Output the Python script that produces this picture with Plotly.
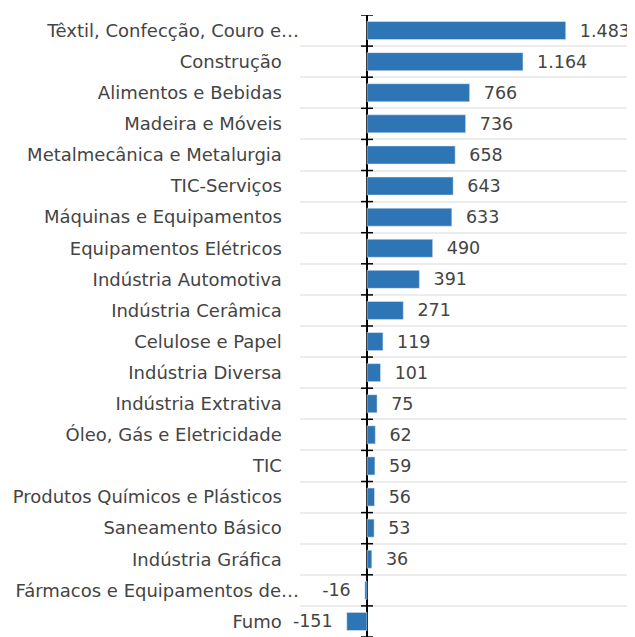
import plotly.graph_objects as go

categories = [
    "Têxtil, Confecção, Couro e…", "Construção", "Alimentos e Bebidas",
    "Madeira e Móveis", "Metalmecânica e Metalurgia", "TIC-Serviços",
    "Máquinas e Equipamentos", "Equipamentos Elétricos", "Indústria Automotiva",
    "Indústria Cerâmica", "Celulose e Papel", "Indústria Diversa",
    "Indústria Extrativa", "Óleo, Gás e Eletricidade", "TIC",
    "Produtos Químicos e Plásticos", "Saneamento Básico", "Indústria Gráfica",
    "Fármacos e Equipamentos de…", "Fumo",
]
values = [1483, 1164, 766, 736, 658, 643, 633, 490, 391, 271,
          119, 101, 75, 62, 59, 56, 53, 36, -16, -151]

NB = "\u00a0"

def fmt(v):
    s = f"{abs(v):,}".replace(",", ".")
    return ("-" if v < 0 else "") + s

labels = [(NB * 2 + fmt(v)) if v >= 0 else (fmt(v) + NB * 2) for v in values]
ticktext = [c if c.endswith("…") else c + NB * 3 for c in categories]

FONT = "DejaVu Sans"
TXT = "#444444"

fig = go.Figure(go.Bar(
    x=values, y=categories, orientation="h",
    marker=dict(color="#2E75B6"), width=0.58,
    text=labels, textposition="outside", cliponaxis=False,
    constraintext="none",
    textfont=dict(family=FONT, size=17.5, color=TXT),
))

shapes = []
for i in range(len(categories) + 1):
    shapes.append(dict(
        type="line", xref="x", yref="y", xsizemode="pixel", xanchor=0,
        x0=-6, x1=6, y0=i - 0.5, y1=i - 0.5,
        line=dict(color="black", width=1.5),
    ))

# page body adds an 8px offset; figure sized to fill the 635x637 window
fig.update_layout(
    width=627, height=629,
    margin=dict(l=292, r=0, t=7, b=0, autoexpand=False),
    plot_bgcolor="white", paper_bgcolor="white",
    showlegend=False, shapes=shapes,
    font=dict(family=FONT, size=18, color=TXT),
)
fig.update_xaxes(range=[-500, 2000], showgrid=False, showticklabels=False,
                 zeroline=True, zerolinecolor="black", zerolinewidth=2,
                 automargin=False)
fig.update_yaxes(autorange=False, range=[len(categories) - 0.5, -0.5],
                 tickson="boundaries", showgrid=True, gridcolor="#ececec",
                 gridwidth=1.5, ticks="", ticklabelstandoff=0, automargin=False,
                 tickmode="array", tickvals=categories, ticktext=ticktext,
                 tickfont=dict(family=FONT, size=18, color=TXT))

fig.write_html("out.html")
